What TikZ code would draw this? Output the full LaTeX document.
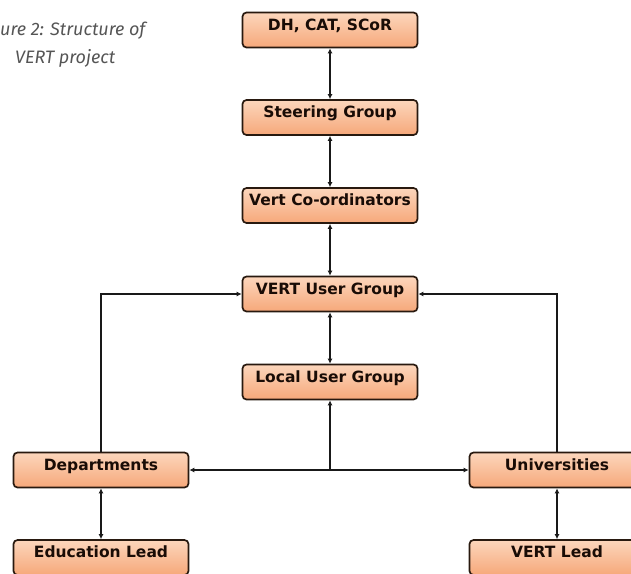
\documentclass[tikz,border=0pt]{standalone}
\usepackage{fontspec}
\setmainfont{DejaVu Sans}
\newfontfamily\capfont{Fira Sans}
\usetikzlibrary{arrows.meta}
\definecolor{boxline}{RGB}{40,25,15}
\definecolor{boxtop}{RGB}{252,214,188}
\definecolor{boxbot}{RGB}{246,168,122}
\definecolor{boxtext}{RGB}{25,12,6}
\definecolor{linecol}{RGB}{25,25,25}
\definecolor{capcol}{RGB}{85,85,85}
\begin{document}
\begin{tikzpicture}[x=1pt,y=-1pt,
  box/.style={draw=boxline, line width=1.7pt, rounded corners=4pt,
    top color=boxtop, bottom color=boxbot,
    minimum width=175pt, minimum height=35pt, inner sep=0pt,
    text height=11pt, text depth=11pt,
    font=\bfseries\fontsize{15.5}{17}\selectfont, text=boxtext},
  link/.style={line width=1.6pt, draw=linecol},
  both/.style={link, {Latex[length=5pt,width=5pt]}-{Latex[length=5pt,width=5pt]}},
  toend/.style={link, -{Latex[length=5pt,width=5pt]}},
  captext/.style={font=\capfont\itshape\fontsize{18}{20}\selectfont, text=capcol, anchor=base west, inner sep=0pt}
]
\useasboundingbox (0,0) rectangle (631,573);
\begin{scope}
\clip (0,0) rectangle (631,573);
% caption
\node[captext] (cap1) at (0,35) {ure 2: Structure of};
\node[captext] (cap2) at (15,63) {VERT project};

% boxes
\node[box] (dh)    at (330,30)  {DH, CAT, SCoR};
\node[box] (steer) at (330,117.5) {Steering Group};
\node[box] (coord) at (330,205.5) {Vert Co-ordinators};
\node[box] (vug)   at (330,294) {VERT User Group};
\node[box] (lug)   at (330,382) {Local User Group};
\node[box] (dept)  at (101,470) {Departments};
\node[box] (edu)   at (101,557.5) {Education Lead};
\node[box] (univ)  at (557,470) {Universities};
\node[box] (vlead) at (557,557.5) {VERT Lead};

% vertical chain
\draw[both] (dh.south) -- (steer.north);
\draw[both] (steer.south) -- (coord.north);
\draw[both] (coord.south) -- (vug.north);
\draw[both] (vug.south) -- (lug.north);
\draw[both] (dept.south) -- (edu.north);
\draw[both] (univ.south) -- (vlead.north);

% horizontal connector
\draw[both] (dept.east) -- (univ.west);
\coordinate (mid) at (lug.south |- dept.east);
\draw[toend] (mid) -- (lug.south);

% side connectors
\draw[toend] (dept.north) |- (vug.west);
\draw[toend] (univ.north) |- (vug.east);
\end{scope}
\end{tikzpicture}
\end{document}
